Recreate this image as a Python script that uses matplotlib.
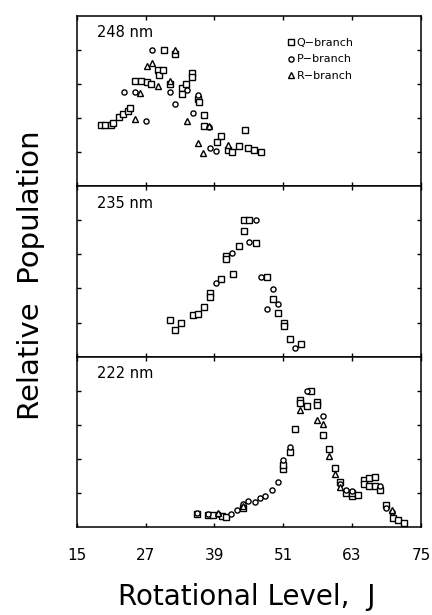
import matplotlib
matplotlib.use('Agg')
import matplotlib.pyplot as plt

# 248 nm photolysis
q248_j = [19.2, 19.9, 21.0, 21.4, 22.3, 23.1, 23.9, 24.3, 25.1, 26.2, 27.2, 28.0, 29.2, 29.3, 30.1,
          30.3, 31.2, 32.1, 33.3, 33.3, 34.1, 35.1, 35.1, 36.1, 36.3, 37.2, 37.2, 39.5, 40.2, 41.3,
          42.0, 43.2, 44.3, 44.9, 45.9, 47.2]
q248_y = [0.360, 0.360, 0.360, 0.372, 0.405, 0.424, 0.438, 0.458, 0.618, 0.618, 0.610, 0.599, 0.682, 0.651, 0.682,
          0.798, 0.599, 0.773, 0.574, 0.541, 0.599, 0.663, 0.638, 0.512, 0.492, 0.419, 0.353, 0.260, 0.295, 0.211,
          0.198, 0.237, 0.327, 0.221, 0.211, 0.202]
p248_j = [23.3, 25.1, 27.1, 28.2, 31.2, 32.1, 34.3, 35.2, 36.2, 38.0, 38.2, 39.3]
p248_y = [0.554, 0.551, 0.382, 0.798, 0.551, 0.483, 0.566, 0.430, 0.535, 0.347, 0.225, 0.205]
r248_j = [25.1, 26.0, 27.2, 28.2, 29.2, 31.2, 32.1, 34.3, 36.2, 37.0, 38.0, 41.3]
r248_y = [0.395, 0.547, 0.705, 0.721, 0.585, 0.618, 0.798, 0.380, 0.256, 0.192, 0.355, 0.240]

# 235 nm photolysis
q235_j = [31.2, 32.2, 33.1, 35.2, 36.2, 37.2, 38.2, 38.2, 40.2, 41.1, 41.1, 42.3, 43.2, 44.2, 44.2,
          45.1, 46.2, 48.1, 49.2, 50.1, 51.1, 51.1, 52.1, 54.1]
q235_y = [0.214, 0.156, 0.199, 0.242, 0.248, 0.292, 0.374, 0.351, 0.456, 0.589, 0.573, 0.487, 0.651, 0.735, 0.799,
          0.799, 0.667, 0.466, 0.339, 0.253, 0.195, 0.180, 0.105, 0.072]
p235_j = [39.2, 42.1, 45.1, 46.2, 47.2, 48.2, 49.2, 50.1, 53.1]
p235_y = [0.429, 0.608, 0.671, 0.799, 0.466, 0.281, 0.398, 0.306, 0.053]

# 222 nm photolysis
q222_j = [36.0, 37.9, 38.7, 40.3, 41.0, 44.0, 50.9, 50.9, 52.1, 53.1, 54.0, 54.0, 55.1, 55.9, 56.9,
          56.9, 58.0, 59.0, 60.0, 60.9, 62.0, 63.0, 63.0, 64.0, 65.0, 65.0, 66.0, 66.0, 67.0, 67.0,
          67.9, 68.9, 70.1, 71.0, 72.0]
q222_y = [0.075, 0.071, 0.071, 0.067, 0.060, 0.111, 0.339, 0.365, 0.439, 0.577, 0.746, 0.726, 0.710, 0.796, 0.736,
          0.716, 0.538, 0.458, 0.345, 0.266, 0.200, 0.180, 0.200, 0.190, 0.274, 0.250, 0.286, 0.240, 0.293, 0.240,
          0.220, 0.127, 0.052, 0.042, 0.022]
p222_j = [36.0, 37.9, 39.7, 41.9, 43.0, 44.0, 44.9, 46.0, 46.9, 47.9, 49.1, 50.0, 50.9, 52.1, 55.1,
          58.0, 60.9, 62.0, 63.0, 67.9, 68.9, 69.9]
p222_y = [0.082, 0.075, 0.075, 0.075, 0.101, 0.135, 0.155, 0.147, 0.171, 0.180, 0.220, 0.266, 0.393, 0.472, 0.796,
          0.651, 0.250, 0.220, 0.210, 0.240, 0.110, 0.091]
r222_j = [39.7, 44.0, 54.0, 56.8, 58.0, 59.0, 60.0, 60.9, 69.9]
r222_y = [0.082, 0.122, 0.686, 0.627, 0.603, 0.419, 0.310, 0.234, 0.100]

panels = [
    ('248 nm', [(q248_j, q248_y), (p248_j, p248_y), (r248_j, r248_y)]),
    ('235 nm', [(q235_j, q235_y), (p235_j, p235_y), ([], [])]),
    ('222 nm', [(q222_j, q222_y), (p222_j, p222_y), (r222_j, r222_y)]),
]
branch_names = ['Q\u2212branch', 'P\u2212branch', 'R\u2212branch']
branch_markers = ['s', 'o', '^']
xticks = [15, 27, 39, 51, 63, 75]

plt.rcParams['font.family'] = ['DejaVu Sans']
plt.rcParams['axes.linewidth'] = 1.1

fig, axes = plt.subplots(3, 1, sharex=True, figsize=(4.32, 6.15), dpi=100)
fig.subplots_adjust(left=0.1775, right=0.9745, top=0.9745, bottom=0.143, hspace=0)

for ax, (label, series) in zip(axes, panels):
    for (j, y), m, name in zip(series, branch_markers, branch_names):
        ax.plot(j, y, linestyle='none', marker=m, ms=3.7, mfc='white', mec='black', mew=1.0,
                label=name)
    ax.set_xlim(15, 75)
    ax.set_ylim(0, 1)
    ax.set_xticks(xticks)
    ax.set_yticks([0.2, 0.4, 0.6, 0.8])
    ax.tick_params(axis='y', direction='in', left=True, right=True, labelleft=False, length=3, width=1)
    ax.tick_params(axis='x', direction='in', top=True, bottom=True, length=3, width=1)
    ax.text(0.059, 0.90, label, transform=ax.transAxes, fontsize=10.5, va='center', ha='left')

axes[0].legend(loc='upper left', bbox_to_anchor=(0.6, 0.90), frameon=False, fontsize=8,
               handlelength=0.4, handletextpad=0.3, labelspacing=0.55, borderpad=0)
axes[2].tick_params(axis='x', labelsize=11, pad=15)
fig.text(0.572, 0.029, 'Rotational Level,  J', fontsize=20, ha='center', va='center')
fig.text(0.072, 0.553, 'Relative  Population', fontsize=21, ha='center', va='center', rotation=90)

fig.savefig('out.png', dpi=100)
